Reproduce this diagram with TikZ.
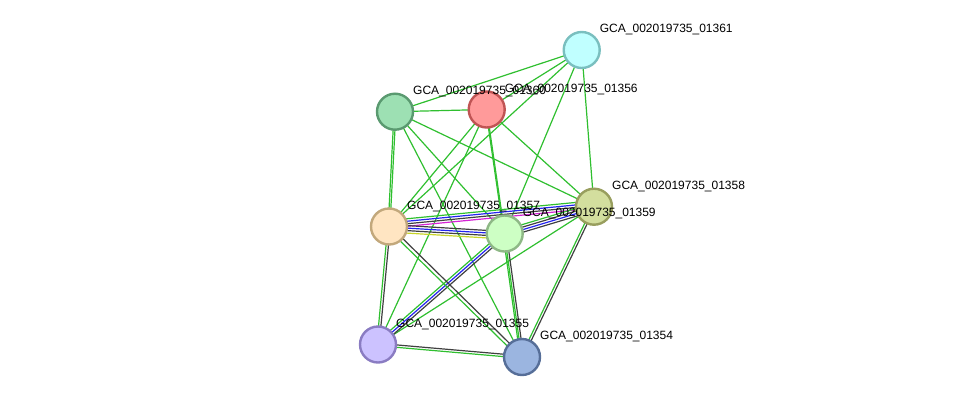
\documentclass[tikz,border=0pt]{standalone}
\usepackage{fontspec}
\setmainfont{Liberation Sans}
\usetikzlibrary{calc}
\definecolor{eg}{HTML}{2FBF2F}
\definecolor{ek}{HTML}{404040}
\definecolor{eb}{HTML}{2424F0}
\definecolor{em}{HTML}{D424D4}
\definecolor{ey}{HTML}{C8D428}
\definecolor{fA}{HTML}{C0FFFF}\definecolor{dA}{HTML}{7ABFBF}
\definecolor{fB}{HTML}{9DE0B3}\definecolor{dB}{HTML}{5A9A70}
\definecolor{fC}{HTML}{FF9A9A}\definecolor{dC}{HTML}{C05454}
\definecolor{fD}{HTML}{D3DE9E}\definecolor{dD}{HTML}{989E5E}
\definecolor{fE}{HTML}{FFE5C2}\definecolor{dE}{HTML}{C2A87C}
\definecolor{fF}{HTML}{CDFFC4}\definecolor{dF}{HTML}{8EB886}
\definecolor{fG}{HTML}{CCC2FF}\definecolor{dG}{HTML}{8A7CC2}
\definecolor{fH}{HTML}{9BB5E0}\definecolor{dH}{HTML}{566E98}
\newcommand\medge[3]{\foreach \c/\o in {#3}{\draw[edge,\c] ($(#1)!\o pt!90:(#2)$) -- ($(#2)!\o pt!-90:(#1)$);}}
\begin{document}
\begin{tikzpicture}[x=1pt,y=-1pt,
  edge/.style={line width=1.2pt},
  prot/.style={circle,draw,line width=2.4pt,minimum size=36pt,inner sep=0pt},
  lab/.style={anchor=base west,inner sep=0pt,font=\fontsize{12}{14}\selectfont}]
\useasboundingbox (0,0) rectangle (976,402);
\coordinate (A) at (581.7,50);
\coordinate (B) at (395,111.7);
\coordinate (C) at (486.7,109.5);
\coordinate (D) at (594,206.7);
\coordinate (E) at (389,226.5);
\coordinate (F) at (504.7,233.5);
\coordinate (G) at (378,344.5);
\coordinate (H) at (522,357);
% green-only edges
\foreach \p/\q in {A/B,A/C,A/D,A/E,A/F,B/C,B/D,B/F,B/H,C/D,C/E,C/F,C/G,D/G}
  \draw[edge,eg] (\p) -- (\q);
\medge{B}{E}{eg/-0.9,eg/0.9}
\medge{C}{F}{eg/-0.9}
% multi-evidence edges
\medge{E}{D}{eg/6,eb/3.5,ek/1,em/-1.5}
\medge{E}{F}{ek/2,eb/-0.5,ek/-3,ey/-5.5}
\medge{F}{D}{eg/3.5,ek/1,eb/-1.5,ek/-4}
\medge{F}{G}{eg/-2.5,eb/0,ek/2.5}
\medge{E}{G}{eg/-1.2,ek/1.2}
\medge{E}{H}{eg/-2.5,ek/1}
\medge{F}{H}{eg/-1.8,eg/-0.4,ek/1.6}
\medge{D}{H}{eg/-1.2,ek/1.2}
\medge{G}{H}{ek/1.2,eg/-1.2}
% proteins
\foreach \n in {A,B,C,D,E,F,G,H}
  \node[prot,draw=d\n,fill=f\n] (n\n) at (\n) {};
% labels
\node[lab] (lA) at ($(A)+(18,-17.5)$) {GCA\_002019735\_01361};
\node[lab] (lC) at ($(C)+(18,-17.5)$) {GCA\_002019735\_01356};
\node[lab] (lB) at ($(B)+(18,-17.5)$) {GCA\_002019735\_01360};
\node[lab] (lD) at ($(D)+(18,-17.5)$) {GCA\_002019735\_01358};
\node[lab] (lE) at ($(E)+(18,-17.5)$) {GCA\_002019735\_01357};
\node[lab] (lF) at ($(F)+(18,-17.5)$) {GCA\_002019735\_01359};
\node[lab] (lG) at ($(G)+(18,-17.5)$) {GCA\_002019735\_01355};
\node[lab] (lH) at ($(H)+(18,-17.5)$) {GCA\_002019735\_01354};
\end{tikzpicture}
\end{document}
